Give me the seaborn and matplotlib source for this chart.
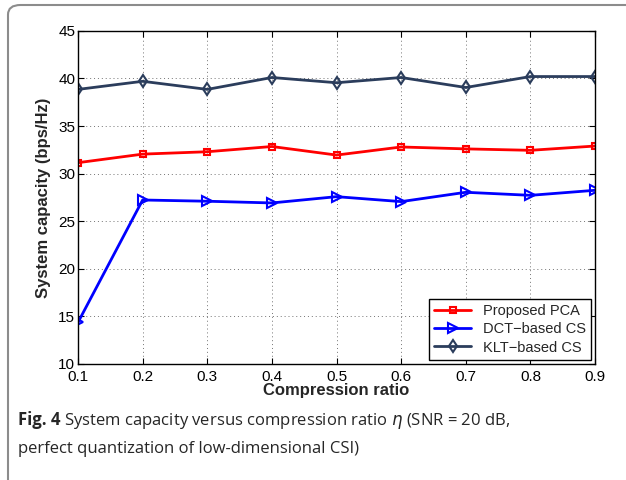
"""System capacity vs compression ratio, redrawn with seaborn."""
import numpy as np
import pandas as pd
import matplotlib
matplotlib.use("Agg")
import matplotlib.pyplot as plt
from matplotlib.patches import FancyBboxPatch
import seaborn as sns

# --- data ---
ratio = [0.1, 0.2, 0.3, 0.4, 0.5, 0.6, 0.7, 0.8, 0.9]
pca = [31.15, 32.05, 32.3, 32.85, 31.95, 32.8, 32.6, 32.45, 32.9]
dct = [14.37, 27.23, 27.1, 26.92, 27.58, 27.06, 28.04, 27.72, 28.25]
klt = [38.85, 39.7, 38.85, 40.1, 39.55, 40.1, 39.05, 40.2, 40.2]
series_names = ["Proposed PCA", "DCT\u2212based CS", "KLT\u2212based CS"]

sns.set_style("whitegrid", {
    "grid.color": "0.45", "axes.edgecolor": "black",
    "xtick.direction": "in", "ytick.direction": "in",
    "xtick.bottom": True, "ytick.left": True, "xtick.top": True, "ytick.right": True,
})
plt.rcParams["font.family"] = ["Liberation Sans", "DejaVu Sans"]

fig = plt.figure(figsize=(6.26, 4.8), dpi=100)
ax = fig.add_axes([0.1246, 0.2417, 0.826, 0.694])

df = pd.DataFrame({
    "ratio": ratio * 3,
    "capacity": pca + dct + klt,
    "method": np.repeat(series_names, len(ratio)),
})
colors = ["#ff0000", "#0000ff", "#2b3d5c"]
markers = ["s", ">", "d"]
msizes = [5, 6.5, 6]
for name, c, m, ms in zip(series_names, colors, markers, msizes):
    sub = df[df["method"] == name]
    sns.lineplot(data=sub, x="ratio", y="capacity", ax=ax, color=c, lw=2,
                 marker=m, markersize=ms, markerfacecolor="none",
                 markeredgecolor=c, markeredgewidth=1.5, label=name)

ax.set_xlim(0.1, 0.9)
ax.set_ylim(10, 45)
ax.set_xticks(ratio)
ax.set_xticklabels([f"{r:.1f}" for r in ratio])
ax.set_yticks(range(10, 46, 5))
ax.tick_params(labelsize=11, length=4, width=0.8, colors="black", pad=2)
ax.tick_params(axis="x", pad=4.5)
for s in ax.spines.values():
    s.set_linewidth(1.0)
ax.grid(True, linewidth=0.7, linestyle=(0, (1, 3)))
ax.set_xlabel("Compression ratio", fontsize=12, fontweight="bold", labelpad=-1)
ax.set_ylabel("System capacity (bps/Hz)", fontsize=12, fontweight="bold", labelpad=5)

leg = ax.legend(loc="lower right", fontsize=10.5, frameon=True, fancybox=False,
                edgecolor="black", framealpha=1, borderaxespad=0.3,
                handlelength=2.5, labelspacing=0.3, borderpad=0.35)
leg.get_frame().set_linewidth(1.0)

# caption and surrounding frame (frame runs off the right and bottom edges)
frame = FancyBboxPatch((8 / 626, -0.05), 1.1, 1.05 - 5 / 480, transform=fig.transFigure,
                       boxstyle="round,pad=0,rounding_size=0.02",
                       facecolor="none", edgecolor="0.55", lw=1.5)
fig.patches.append(frame)

cap_font = ["Open Sans", "DejaVu Sans"]
t1 = fig.text(0.028, 0.115, "Fig. 4", fontsize=12, fontweight="bold",
              family=cap_font, va="baseline")
fig.canvas.draw()
bb = t1.get_window_extent().transformed(fig.transFigure.inverted())
fig.text(bb.x1 + 0.006, 0.115,
         "System capacity versus compression ratio $\\eta$ (SNR = 20 dB,",
         fontsize=12, family=cap_font, va="baseline")
fig.text(0.028, 0.056, "perfect quantization of low-dimensional CSI)",
         fontsize=12, family=cap_font, va="baseline")

fig.savefig("out.png", dpi=100)
